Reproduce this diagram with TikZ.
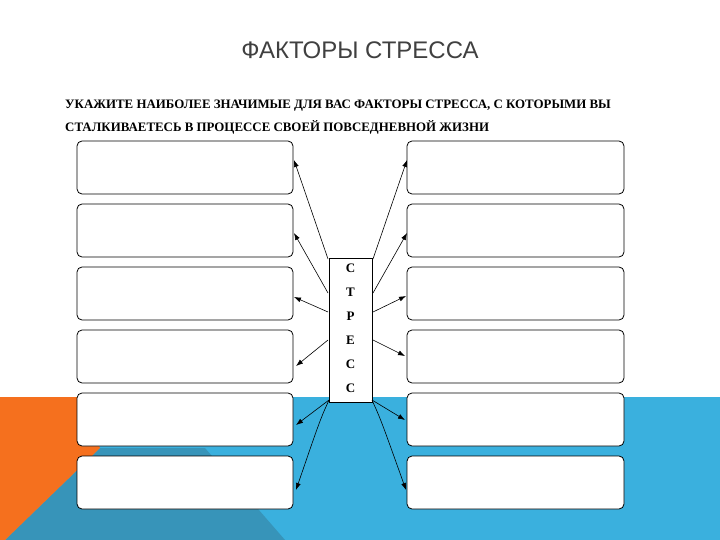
\documentclass[tikz,border=0pt]{standalone}
\usepackage{fontspec}
\usetikzlibrary{arrows.meta}
\setmainfont{Liberation Serif}
\newfontfamily\titlefont{Liberation Sans}
\begin{document}
\begin{tikzpicture}[x=1pt,y=-1pt,
  fbox/.style={draw=black,fill=white,rounded corners=5pt,line width=0.8pt},
  arr/.style={-{Latex[length=7pt,width=5pt]},line width=0.6pt}]
\useasboundingbox (0,0) rectangle (720,540);
\fill[white] (0,0) rectangle (720,540);
% background
\fill[fill={rgb,255:red,58;green,176;blue,222}] (0,397) rectangle (720,540);
\fill[fill={rgb,255:red,55;green,148;blue,185}] (100,448) -- (205,448) -- (285,540) -- (5,540) -- cycle;
\fill[fill={rgb,255:red,245;green,112;blue,30}] (0,397) -- (78,397) -- (100,448) -- (5,540) -- (0,540) -- cycle;
% title
\node[font=\titlefont\fontsize{24}{26}\selectfont,text=black!75] (title) at (360,50) {ФАКТОРЫ СТРЕССА};
\node[font=\bfseries\fontsize{12.9}{14}\selectfont,anchor=west,inner sep=0] (l1) at (65,106) {УКАЖИТЕ НАИБОЛЕЕ ЗНАЧИМЫЕ ДЛЯ ВАС ФАКТОРЫ СТРЕССА, С КОТОРЫМИ ВЫ};
\node[font=\bfseries\fontsize{12.9}{14}\selectfont,anchor=west,inner sep=0] (l2) at (65,127) {СТАЛКИВАЕТЕСЬ В ПРОЦЕССЕ СВОЕЙ ПОВСЕДНЕВНОЙ ЖИЗНИ};
% boxes
\foreach \i/\y in {1/141,2/204,3/267,4/330,5/393,6/456}{
  \draw[fbox] (77,\y) rectangle (293,\y+53);
  \draw[fbox] (407,\y) rectangle (624,\y+53);
}
% center
\node[draw,fill=white,minimum width=43pt,minimum height=144pt,inner sep=0,line width=0.8pt] (c) at (350.5,330) {};
\foreach \t [count=\k] in {С,Т,Р,Е,С,С}{
  \node[font=\bfseries\fontsize{13}{14}\selectfont] (ch\k) at (350.5,244+24*\k) {\t};
}
\coordinate (cl1) at (328,259); \coordinate (cr1) at (373,259);
\coordinate (cl2) at (328,293); \coordinate (cr2) at (373,293);
\coordinate (cl3) at (328,312); \coordinate (cr3) at (373,312);
\coordinate (cl4) at (328,340); \coordinate (cr4) at (373,340);
\coordinate (cl5) at (329,400); \coordinate (cr5) at (372,400);
\coordinate (cl6) at (329,400); \coordinate (cr6) at (372,400);
\draw[arr] (cl1) -- (294,160);
\draw[arr] (cl2) -- (294,233);
\draw[arr] (cl3) -- (294,297);
\draw[arr] (cl4) -- (296,366);
\draw[arr] (cl5) -- (296,425);
\draw[arr] (cl6) .. controls (320,420) .. (296,490);
\draw[arr] (cr1) -- (407,160);
\draw[arr] (cr2) -- (407,233);
\draw[arr] (cr3) -- (406,296);
\draw[arr] (cr4) -- (405,356);
\draw[arr] (cr5) -- (405,420);
\draw[arr] (cr6) .. controls (381,420) .. (406,490);
\end{tikzpicture}
\end{document}
